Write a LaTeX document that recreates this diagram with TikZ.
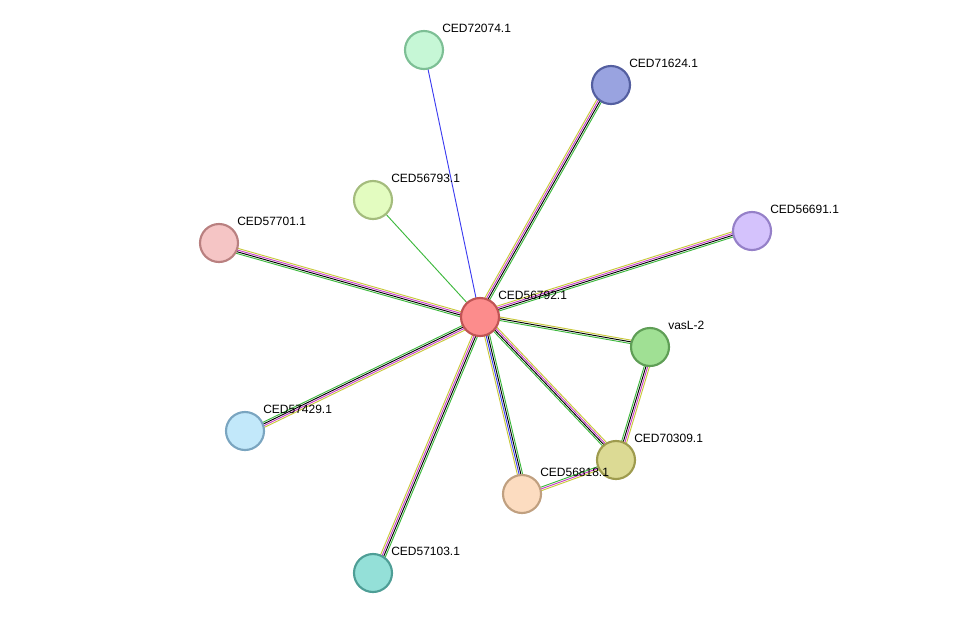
\documentclass[tikz,border=0pt]{standalone}
\usepackage{fontspec}
\setmainfont{Liberation Sans}
\usetikzlibrary{calc,positioning}

\definecolor{cgreen}{HTML}{3DB83D}
\definecolor{cyellow}{HTML}{C8C83A}
\definecolor{cmag}{HTML}{C83CC8}
\definecolor{cblue}{HTML}{3C3CF0}

\tikzset{
  prot/.style={circle,minimum size=28.5pt,inner sep=0pt,line width=1.6pt},
  lbl/.style={anchor=west,inner sep=0pt,font=\fontsize{9}{10}\selectfont},
  wire/.style={line width=0.7pt}
}

% parallel coloured strands between two nodes
\newcommand{\strands}[3]{%
  \foreach \c [count=\i] in {#3} {%
    \pgfmathsetmacro{\off}{(\i-1)*1.3}
    \draw[wire,\c] ($(#1)!\off pt!90:(#2)$) -- ($(#2)!\off pt!-90:(#1)$);
  }%
}

\begin{document}
\begin{tikzpicture}[x=0.75pt,y=-0.75pt]
  \useasboundingbox (0,0) rectangle (975,619);

  % positions first, edges go underneath the circles
  \foreach \n/\x/\y in {c72074/424/50, c71624/611/85, c56793/373/200,
      c56691/752/231, c57701/219/243, c56792/480/317, vasl/650/347,
      c57429/245/431, c70309/616/460, c56818/522/494, c57103/373/573}
    \coordinate (\n) at (\x,\y);

  %Draw edges
  \strands{c56792}{c72074}{cblue}
  \strands{c56792}{c56793}{cgreen}
  \strands{c56792}{c71624}{cgreen,black,cmag,cyellow}
  \strands{c56792}{c56691}{cgreen,black,cmag,cyellow}
  \strands{c56792}{c57701}{cyellow,cmag,black,cgreen}
  \strands{c56792}{c57429}{cgreen,black,cmag,cyellow}
  \strands{c56792}{c57103}{cyellow,cmag,black,cgreen}
  \strands{c56792}{c56818}{cyellow,cblue,black,cgreen}
  \strands{c56792}{c70309}{cgreen,black,cmag,cyellow}
  \strands{c56792}{vasl}{cgreen,black,cyellow}
  \strands{vasl}{c70309}{cgreen,black,cmag,cyellow}
  \strands{c70309}{c56818}{cgreen,cmag,cyellow}

  %Draw proteins
  \foreach \n/\f/\d/\t in {
      c72074/C6F7D6/7DBF95/CED72074.1, c71624/99A3E0/545FA0/CED71624.1,
      c56793/E3FCC0/A4BC7D/CED56793.1, c56691/D4C2FC/9580C8/CED56691.1,
      c57701/F5C5C5/B98080/CED57701.1, c56792/FC8C8C/C05454/CED56792.1,
      vasl/A0E094/5F9E56/vasL-2, c57429/C2E8FA/7AA5C0/CED57429.1,
      c70309/DCDA94/9E9B4E/CED70309.1, c56818/FCDCC0/C0A080/CED56818.1,
      c57103/94E0D8/4E9E96/CED57103.1} {
    \definecolor{pf}{HTML}{\f}
    \definecolor{pd}{HTML}{\d}
    \node[prot,fill=pf,draw=pd] (\n-p) at (\n) {};
    \node[lbl] (\n-l) at ($(\n)+(18,-22)$) {\t};
  }
\end{tikzpicture}
\end{document}
